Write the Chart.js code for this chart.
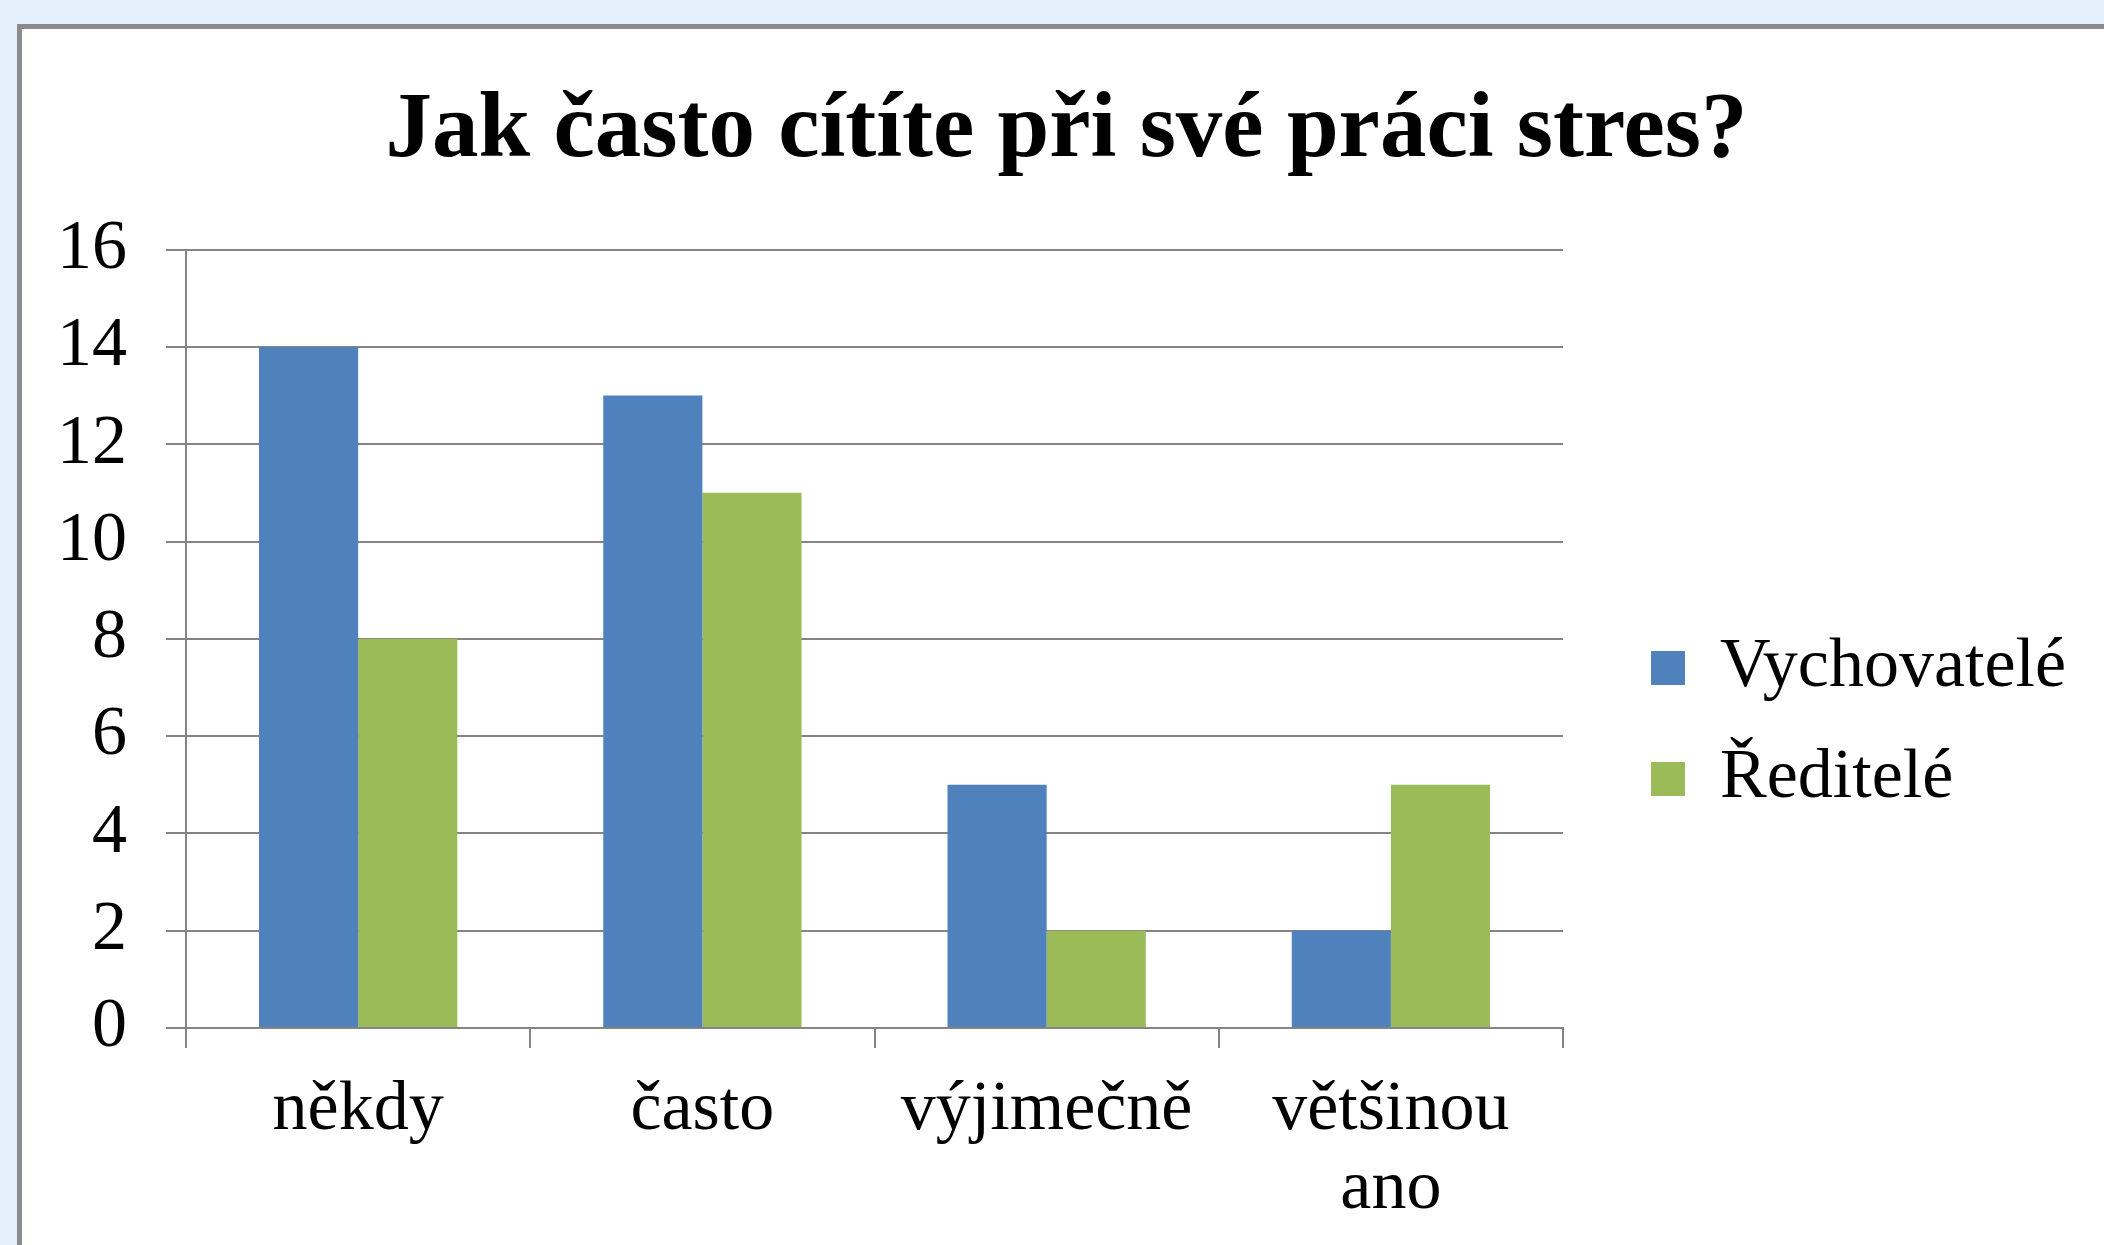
<!DOCTYPE html>
<html>
<head>
<meta charset="utf-8">
<script src="https://cdn.jsdelivr.net/npm/chart.js@4/dist/chart.umd.min.js"></script>
<style>
  html, body { margin: 0; padding: 0; background: #e3effa; overflow: hidden; }
  #frame {
    position: absolute; left: 17px; top: 24px; right: 0; bottom: 0;
    background: #fff; border-left: 5px solid #8b8b8b; border-top: 5px solid #8b8b8b;
  }
  #stressChart { position: absolute; left: 0; top: 0; }
</style>
</head>
<body>
<div id="frame"></div>
<canvas id="stressChart" width="2104" height="1245"></canvas>
<script>
// Stress survey - grouped bar chart

const categories = ['někdy', 'často', 'výjimečně', ['většinou', 'ano']];
const vychovatele = [14, 13, 5, 2];
const reditele = [8, 11, 2, 5];
const yTicks = [0, 2, 4, 6, 8, 10, 12, 14, 16];

const gridGray = '#848484';
const serif = '"Liberation Serif", "Times New Roman", serif';

// Excel places the legend well away from the plot and centres the title
// over plot + legend, Chart.js glues things together - nudge them after layout
const boxShift = {
  id: 'boxShift',
  afterLayout(chart) {
    const l = chart.legend;
    l.left += 47; l.right += 47;
    l.top += 101; l.bottom += 101;
    const t = chart.titleBlock;
    t.left += 52; t.right += 52;
  }
};

new Chart(document.getElementById('stressChart'), {
  type: 'bar',
  data: {
    labels: categories,
    datasets: [{
      label: 'Vychovatelé',
      data: vychovatele,
      backgroundColor: '#4f81bd',
      borderWidth: 0
    }, {
      label: 'Ředitelé',
      data: reditele,
      backgroundColor: '#9bbb59',
      borderWidth: 0
    }]
  },
  options: {
    responsive: false,
    animation: false,
    devicePixelRatio: 1,
    categoryPercentage: 0.576,
    barPercentage: 1,
    layout: { padding: { top: 0, right: 75, bottom: 0, left: 0 } },
    scales: {
      x: {
        grid: {
          display: true,
          drawOnChartArea: false,
          drawTicks: true,
          tickLength: 20,
          offset: true,
          color: gridGray,
          lineWidth: 2
        },
        border: { color: gridGray, width: 2 },
        ticks: {
          color: '#000',
          font: { family: serif, size: 70, lineHeight: 1.13 },
          padding: 23,
          maxRotation: 0,
          autoSkip: false
        },
        afterFit(scale) { scale.height = 217; }
      },
      y: {
        min: 0,
        max: 16,
        afterBuildTicks(scale) { scale.ticks = yTicks.map(v => ({ value: v })); },
        grid: {
          color: gridGray,
          lineWidth: 2,
          tickLength: 20
        },
        border: { color: gridGray, width: 2 },
        ticks: {
          color: '#000',
          font: { family: serif, size: 70 },
          padding: 39
        },
        afterFit(scale) { scale.width = 186; }
      }
    },
    plugins: {
      title: {
        display: true,
        text: 'Jak často cítíte při své práci stres?',
        color: '#000',
        font: { family: serif, size: 93, weight: 'bold', lineHeight: 1.2 },
        padding: { top: 76, bottom: 62 }
      },
      legend: {
        position: 'right',
        align: 'center',
        labels: {
          color: '#000',
          font: { family: serif, size: 70 },
          boxWidth: 34,
          boxHeight: 34,
          padding: 41
        }
      },
      tooltip: { enabled: false }
    }
  },
  plugins: [boxShift]
});
</script>
</body>
</html>
